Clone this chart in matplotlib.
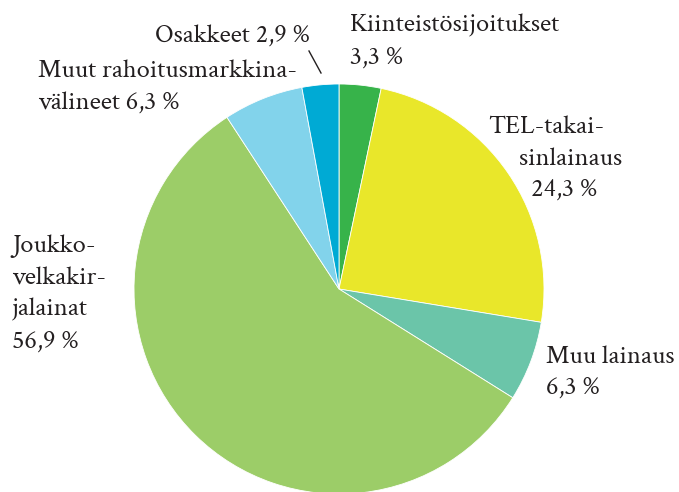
import matplotlib
matplotlib.use("Agg")
import matplotlib.pyplot as plt

W, H = 679, 492

categories = ["Kiinteistösijoitukset", "TEL-takaisinlainaus", "Muu lainaus",
              "Joukkovelkakirjalainat", "Muut rahoitusmarkkinavälineet", "Osakkeet"]
values = [3.3, 24.3, 6.3, 56.9, 6.3, 2.9]
colors = ["#37b34a", "#e9e72a", "#6bc5a9", "#9ccd68", "#82d3eb", "#00aad4"]
# hyphenated label lines as printed
label_lines = [
    ["Kiinteistösijoitukset", "{v} %"],
    ["TEL-takai-", "sinlainaus", "{v} %"],
    ["Muu lainaus", "{v} %"],
    ["Joukko-", "velkakir-", "jalainat", "{v} %"],
    ["Muut rahoitusmarkkina-", "välineet {v} %"],
    ["Osakkeet {v} %"],
]

def fmt(v):
    return f"{v:.1f}".replace(".", ",")

fig = plt.figure(figsize=(W / 100, H / 100), dpi=100)
ax = fig.add_axes([0, 0, 1, 1])

cx, cy, r = 339, H - 289, 205
ax.pie(values, colors=colors, startangle=90, counterclock=False,
       center=(cx, cy), radius=r,
       wedgeprops=dict(edgecolor="white", linewidth=0.6))
ax.set_xlim(0, W)
ax.set_ylim(0, H)
ax.set_aspect("auto")
ax.axis("off")

# per-line positions (left x, baseline y from top) for each label
positions = [
    [(350, 32), (350, 64)],
    [(488, 133), (519, 165), (531, 196)],
    [(546, 363), (546, 394)],
    [(12, 252), (12, 284), (12, 316), (12, 348)],
    [(38, 77), (38, 110)],
    [(155, 43)],
]

for lines, pos, v in zip(label_lines, positions, values):
    for line, (x, y) in zip(lines, pos):
        ax.text(x, H - y, line.format(v=fmt(v)), ha="left", va="baseline",
                family="Crimson Text", fontsize=19, color="#231f20")

# leader line for the small Osakkeet slice
ax.plot([309, 321], [H - 51, H - 73], color="#231f20", linewidth=1.0)

fig.savefig("out.png", dpi=100)
